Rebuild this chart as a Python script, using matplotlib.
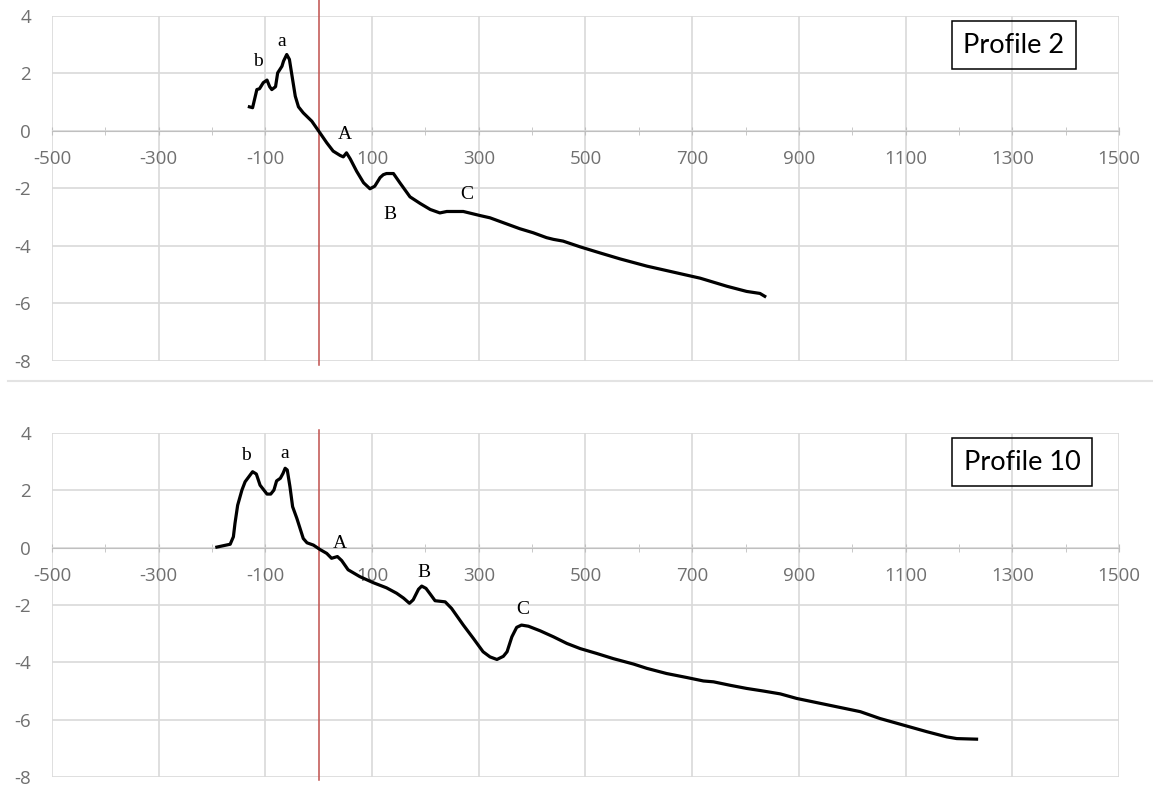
import numpy as np
import matplotlib
matplotlib.use('Agg')
import matplotlib.pyplot as plt
from matplotlib.lines import Line2D

plt.rcParams['axes.unicode_minus'] = False

# profile 2 (top)
x2 = [-130, -124, -116, -111, -104, -97, -92, -88, -81, -77,
      -69, -66, -60, -55, -49, -44, -38, -29, -13, 2,
      15, 27, 40, 46, 52, 59, 71, 84, 96, 105,
      115, 121, 127, 140, 152, 171, 190, 209, 227, 240,
      271, 302, 321, 346, 377, 402, 427, 440, 458, 490,
      527, 565, 615, 665, 715, 765, 802, 827, 836]
y2 = [0.84, 0.81, 1.44, 1.47, 1.68, 1.77, 1.54, 1.44, 1.54, 2.02,
      2.25, 2.43, 2.66, 2.49, 1.79, 1.21, 0.84, 0.63, 0.34, -0.06,
      -0.41, -0.70, -0.85, -0.90, -0.76, -0.97, -1.40, -1.80, -2.01, -1.92,
      -1.62, -1.52, -1.48, -1.48, -1.80, -2.29, -2.52, -2.73, -2.85, -2.80,
      -2.80, -2.94, -3.02, -3.19, -3.40, -3.54, -3.71, -3.77, -3.83, -4.03,
      -4.24, -4.45, -4.70, -4.91, -5.12, -5.40, -5.58, -5.65, -5.75]

# profile 10 (bottom)
x10 = [-191, -166, -160, -157, -152, -144, -138, -132, -124, -117,
       -110, -97, -90, -84, -79, -72, -67, -63, -59, -54,
       -49, -41, -35, -29, -22, -10, 2, 15, 24, 35,
       43, 55, 77, 102, 127, 146, 159, 170, 177, 187,
       193, 201, 209, 218, 237, 249, 271, 290, 308, 321,
       334, 346, 353, 362, 371, 380, 393, 415, 440, 465,
       490, 521, 552, 590, 615, 652, 690, 721, 740, 771,
       802, 833, 865, 896, 927, 971, 1015, 1052, 1096, 1140,
       1177, 1196, 1233]
y10 = [0.02, 0.12, 0.38, 0.85, 1.48, 2.01, 2.30, 2.45, 2.65, 2.57,
       2.18, 1.87, 1.87, 2.01, 2.33, 2.42, 2.59, 2.77, 2.71, 2.13,
       1.43, 1.02, 0.67, 0.32, 0.17, 0.09, -0.06, -0.20, -0.37, -0.31,
       -0.45, -0.77, -1.01, -1.22, -1.40, -1.59, -1.76, -1.94, -1.82, -1.45,
       -1.34, -1.42, -1.62, -1.85, -1.89, -2.12, -2.70, -3.17, -3.63, -3.81,
       -3.90, -3.79, -3.63, -3.11, -2.78, -2.70, -2.74, -2.90, -3.11, -3.34,
       -3.52, -3.69, -3.87, -4.06, -4.21, -4.39, -4.53, -4.65, -4.68, -4.80,
       -4.91, -5.00, -5.10, -5.26, -5.38, -5.55, -5.72, -5.96, -6.19, -6.42,
       -6.60, -6.66, -6.68]

# point labels
labels2 = ['b', 'a', 'A', 'B', 'C']
lx2 = [-114, -69, 49, 134, 277]
ly2 = [2.4, 3.12, -0.12, -2.9, -2.21]

labels10 = ['b', 'a', 'A', 'B', 'C']
lx10 = [-136, -63, 39, 198, 382]
ly10 = [3.2, 3.27, 0.15, -0.88, -2.14]

xticks = np.arange(-500, 1501, 200)
xminor = np.arange(-500, 1501, 100)
yticks = np.arange(-8, 5, 2)

gridColor = '#d9d9d9'
labelColor = '#707070'


def drawProfile(ax, x, y, names, lx, ly, title, boxX, redSpan):
  ax.set_xlim(-500, 1500)
  ax.set_ylim(-8, 4)
  for s in ['left', 'right', 'top']:
    ax.spines[s].set_visible(False)
  ax.spines['bottom'].set_position(('data', 0))
  ax.spines['bottom'].set_color('#bfbfbf')
  ax.spines['bottom'].set_zorder(1)

  ax.set_xticks(xticks)
  ax.set_xticks(xminor, minor=True)
  ax.set_yticks(yticks)
  ax.grid(True, which='major', color=gridColor, lw=1.2)
  ax.set_axisbelow(True)

  ax.tick_params(axis='x', which='both', direction='inout', length=6,
                 color='#bfbfbf', labelcolor=labelColor, labelsize=13.5, pad=11)
  ax.tick_params(axis='y', length=0, labelcolor=labelColor, labelsize=13.5, pad=15)
  for lab in ax.get_xticklabels() + ax.get_yticklabels():
    lab.set_fontfamily('Open Sans')

  ax.axvline(0, ymin=redSpan[0], ymax=redSpan[1], color='#c0504d', lw=1.1,
             clip_on=False, zorder=2)
  ax.plot(x, y, color='black', lw=2.3, zorder=3)

  for n, px, py in zip(names, lx, ly):
    ax.text(px, py, n, family='Liberation Serif', fontsize=14, ha='center', va='center')

  ax.text(boxX, 0.915, title, transform=ax.transAxes, family='Lato', fontsize=19.5,
          ha='center', va='center',
          bbox=dict(boxstyle='square,pad=0.42', facecolor='none', edgecolor='black', lw=1.1))


fig = plt.figure(figsize=(11.53, 7.87), dpi=100)
ax1 = fig.add_axes([0.0451, 0.5413, 0.9254, 0.4384])
ax2 = fig.add_axes([0.0451, 0.0127, 0.9254, 0.4371])

drawProfile(ax1, x2, y2, labels2, lx2, ly2, 'Profile 2', 0.9016, (-0.012, 1.046))
drawProfile(ax2, x10, y10, labels10, lx10, ly10, 'Profile 10', 0.9091, (-0.008, 1.008))

# separator between the two charts
fig.add_artist(Line2D([0.007, 1.0], [0.5159, 0.5159], color='#e3e3e3', lw=1.5))

fig.savefig('out.png', dpi=100)
